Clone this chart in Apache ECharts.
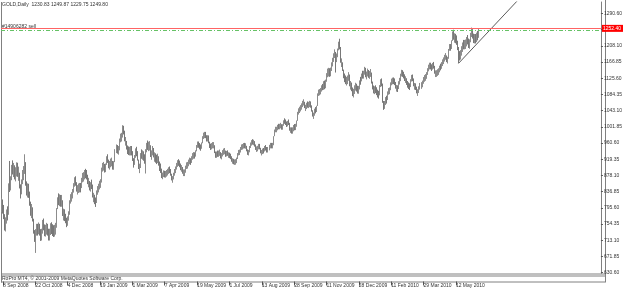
<!DOCTYPE html>
<html>
<head>
<meta charset="utf-8">
<title>GOLD,Daily</title>
<script src="https://cdn.jsdelivr.net/npm/echarts@6/dist/echarts.min.js"></script>
<style>
html, body { margin: 0; padding: 0; background: #fff; }
#main { width: 625px; height: 291px; }
</style>
</head>
<body>
<div id="main"></div>
<script>
// daily closes (one value per bar)
var closeSepOct08 = [806, 792, 778, 745, 762, 785, 778, 858, 850, 866, 905, 892, 892, 880, 882, 905, 880, 885, 845, 830, 868, 880, 888, 912, 852, 838, 842, 836, 802, 785, 790, 768];
var closeOctDec08 = [730, 718, 735, 745, 735, 752, 728, 725, 730, 765, 742, 735, 740, 745, 735, 720, 735, 748, 740, 738, 735, 740, 745, 795, 820, 815, 815, 812, 815, 775, 782, 772];
var closeDecJan09 = [765, 752, 772, 778, 815, 822, 825, 838, 855, 868, 860, 838, 845, 846, 848, 846, 872, 873, 876, 884, 882, 878, 858, 862, 842, 856, 855, 822, 822, 812, 808, 840];
var closeJanFeb09 = [840, 852, 855, 860, 898, 900, 903, 890, 905, 927, 915, 900, 908, 912, 913, 895, 912, 945, 947, 942, 942, 972, 975, 976, 995, 992, 965, 965, 945, 942, 940, 940];
var closeMarApr09 = [942, 940, 915, 905, 930, 940, 938, 918, 895, 897, 935, 930, 930, 925, 915, 940, 958, 952, 952, 955, 925, 935, 947, 925, 925, 920, 918, 925, 905, 898, 895, 872];
var closeAprMay09 = [882, 883, 880, 882, 885, 888, 893, 892, 880, 868, 868, 885, 887, 898, 905, 912, 910, 905, 895, 897, 885, 885, 885, 903, 903, 905, 915, 915, 912, 925, 928, 930];
var closeMayJun09 = [928, 940, 955, 958, 955, 950, 948, 960, 978, 980, 982, 980, 965, 980, 960, 952, 950, 955, 955, 955, 935, 927, 935, 932, 935, 937, 922, 932, 937, 940, 940, 927];
var closeJulAug09 = [940, 930, 930, 928, 925, 915, 915, 912, 912, 913, 920, 935, 937, 937, 950, 950, 952, 955, 953, 953, 940, 935, 937, 953, 957, 965, 962, 962, 955, 945, 945, 948];
var closeAugSep09 = [955, 948, 935, 937, 942, 940, 952, 945, 942, 945, 953, 955, 953, 955, 978, 995, 995, 995, 1005, 1000, 1005, 1005, 998, 1005, 1018, 1015, 1012, 1005, 1015, 1012, 992, 995];
var closeSepNov09 = [990, 995, 1002, 1000, 1003, 1017, 1040, 1042, 1048, 1050, 1057, 1063, 1065, 1050, 1050, 1060, 1057, 1058, 1062, 1055, 1042, 1030, 1030, 1048, 1040, 1055, 1087, 1090, 1090, 1095, 1104, 1102];
var closeNovDec09 = [1112, 1105, 1117, 1138, 1140, 1142, 1138, 1145, 1165, 1168, 1188, 1188, 1175, 1180, 1200, 1215, 1205, 1165, 1165, 1145, 1128, 1125, 1118, 1118, 1125, 1135, 1105, 1110, 1097, 1085, 1090, 1103];
var closeDecFeb10 = [1105, 1098, 1095, 1097, 1120, 1118, 1137, 1132, 1137, 1152, 1128, 1137, 1143, 1130, 1138, 1140, 1112, 1102, 1092, 1098, 1097, 1088, 1085, 1082, 1108, 1118, 1112, 1063, 1052, 1063, 1072, 1070];
var closeFebMar10 = [1092, 1092, 1095, 1115, 1117, 1120, 1118, 1115, 1100, 1100, 1098, 1118, 1118, 1137, 1140, 1135, 1132, 1122, 1122, 1112, 1108, 1105, 1103, 1123, 1128, 1125, 1105, 1105, 1103, 1088, 1090, 1103];
var closeMarMay10 = [1107, 1107, 1115, 1125, 1125, 1130, 1135, 1150, 1153, 1160, 1153, 1152, 1160, 1157, 1137, 1137, 1138, 1142, 1143, 1155, 1153, 1163, 1167, 1173, 1180, 1182, 1168, 1175, 1200, 1208, 1200, 1222];
var closeMayJun10 = [1243, 1228, 1228, 1225, 1220, 1198, 1188, 1177, 1193, 1197, 1212, 1210, 1212, 1212, 1225, 1222, 1207, 1218, 1240, 1245, 1232, 1222, 1230, 1222, 1237, 1230.83, 1249.80];

// typical high-low range of a bar in each of the blocks above (band thickness on the chart)
var blockRanges = [36, 30, 24, 22, 24, 17, 16, 14, 14, 16, 22, 20, 17, 17, 24];

// bars with long shadows: [bar, low, high]
var spikes = [[3, 738, 762], [8, 850, 915], [23, 885, 932], [34, 681, 740], [120, 975, 1006],
  [143, 883, 945], [332, 1140, 1192], [336, 1200, 1226], [380, 1045, 1065], [449, 1225, 1249],
  [454, 1164, 1190], [474, 1229.75, 1249.87]];

var tickBars = [0, 32, 64, 96, 128, 160, 192, 224, 256, 288, 320, 352, 384, 416, 448];
var tickLabels = ['8 Sep 2008', '22 Oct 2008', '4 Dec 2008', '19 Jan 2009', '1 Mar 2009', '7 Apr 2009',
  '19 May 2009', '1 Jul 2009', '13 Aug 2009', '28 Sep 2009', '11 Nov 2009', '28 Dec 2009',
  '11 Feb 2010', '29 Mar 2010', '12 May 2010'];
var priceTicks = [630.60, 671.85, 713.10, 754.35, 795.60, 836.85, 878.10, 919.35, 960.60,
  1001.85, 1043.10, 1084.35, 1125.60, 1166.85, 1208.10, 1249.35, 1290.60];

var askPrice = 1252.40;
var orderPrice = 1247.20;
var trendPoints = [[454, 1163.2], [520, 1343.1]];

var blocks = [closeSepOct08, closeOctDec08, closeDecJan09, closeJanFeb09, closeMarApr09,
  closeAprMay09, closeMayJun09, closeJulAug09, closeAugSep09, closeSepNov09, closeNovDec09,
  closeDecFeb10, closeFebMar10, closeMarMay10, closeMayJun10];

var closes = [], ranges = [];
blocks.forEach(function (b, k) {
  b.forEach(function (v) { closes.push(v); ranges.push(blockRanges[k]); });
});

var slots = 596; // visible bars incl. empty right shift
var cats = [];
for (var i = 0; i < slots; i++) cats.push(String(i));

var labelMap = {};
tickBars.forEach(function (b, k) { labelMap[b] = tickLabels[k]; });

var spikeMap = {};
spikes.forEach(function (s) { spikeMap[s[0]] = s; });

var candles = closes.map(function (c, i) {
  var o = i > 0 ? closes[i - 1] : 800;
  var lo = Math.min(o, c), hi = Math.max(o, c);
  var pad = (ranges[i] - (hi - lo)) / 2;
  if (pad > 0) { lo -= pad; hi += pad; }
  if (spikeMap[i]) { lo = Math.min(lo, spikeMap[i][1]); hi = Math.max(hi, spikeMap[i][2]); }
  return [o, c, lo, hi];
});

var FONT = 'Liberation Sans';
var chart = echarts.init(document.getElementById('main'), null, { renderer: 'canvas' });

var option = {
  animation: false,
  backgroundColor: '#ffffff',
  grid: [
    { left: 1, top: 2, width: 604, height: 271.5 },
    { left: 1, top: 276, width: 604, height: 5.5 }
  ],
  xAxis: [
    { type: 'category', gridIndex: 0, data: cats, boundaryGap: true,
      axisLine: { show: false }, axisTick: { show: false }, axisLabel: { show: false }, splitLine: { show: false } },
    { type: 'category', gridIndex: 1, data: cats, boundaryGap: true,
      axisLine: { show: false },
      axisTick: { show: true, alignWithLabel: true, length: 4,
        interval: function (idx) { return labelMap[idx] !== undefined; },
        lineStyle: { color: '#555', width: 1 } },
      axisLabel: { show: true, align: 'left', margin: 2, fontSize: 5, color: '#333', fontFamily: FONT,
        interval: function (idx) { return labelMap[idx] !== undefined; },
        formatter: function (v, idx) { return labelMap[idx] || ''; } },
      splitLine: { show: false } }
  ],
  yAxis: [
    { type: 'value', gridIndex: 0, position: 'right', min: 628.6, max: 1319.5, scale: true,
      axisLine: { show: true, lineStyle: { color: '#808080', width: 1 } },
      axisTick: { show: true, length: 2, customValues: priceTicks, lineStyle: { color: '#555' } },
      axisLabel: { show: true, margin: 3, fontSize: 5, color: '#333', fontFamily: FONT,
        customValues: priceTicks, formatter: function (v) { return v.toFixed(2); } },
      splitLine: { show: false } },
    { type: 'value', gridIndex: 1, show: false, min: 0, max: 1 }
  ],
  series: [
    {
      type: 'candlestick', xAxisIndex: 0, yAxisIndex: 0, data: candles,
      barWidth: 1, barMaxWidth: 1,
      itemStyle: { color: '#a0a0a0', color0: '#7c7c7c', borderColor: '#8c8c8c', borderColor0: '#787878', borderWidth: 1 },
      markLine: {
        silent: true, symbol: ['none', 'none'], animation: false,
        data: [
          { yAxis: orderPrice,
            lineStyle: { color: '#66c266', width: 1, type: [4, 2, 1, 2] },
            label: { show: true, position: 'insideStartTop', distance: 1, formatter: '#14906282 sell',
              fontSize: 5, color: '#333', fontFamily: FONT } },
          { yAxis: askPrice,
            lineStyle: { color: '#ff6464', width: 1, type: 'solid' },
            label: { show: true, position: 'end', distance: 1, formatter: askPrice.toFixed(2),
              fontSize: 5, color: '#ffffff', backgroundColor: '#ff0000', padding: [1, 2, 1, 1], fontFamily: FONT } }
        ]
      }
    },
    {
      type: 'line', xAxisIndex: 0, yAxisIndex: 0, data: trendPoints, symbol: 'none', silent: true,
      lineStyle: { color: '#5a5a5a', width: 1 }, clip: true
    }
  ],
  graphic: [
    { type: 'text', left: 2, top: 2, style: { text: 'GOLD,Daily  1230.83 1249.87 1229.75 1249.80', fontSize: 5, fill: '#333', fontFamily: FONT } },
    { type: 'text', left: 2, top: 276, style: { text: 'RoPro MT4, \u00a9 2001-2009 MetaQuotes Software Corp.', fontSize: 5, fill: '#333', fontFamily: FONT } },
    { type: 'line', shape: { x1: 1.5, y1: 2, x2: 1.5, y2: 282.5 }, style: { stroke: '#808080', lineWidth: 1 } },
    { type: 'line', shape: { x1: 1, y1: 274, x2: 605, y2: 274 }, style: { stroke: '#808080', lineWidth: 1 } },
    { type: 'line', shape: { x1: 1, y1: 276, x2: 605, y2: 276 }, style: { stroke: '#808080', lineWidth: 1 } },
    { type: 'line', shape: { x1: 1, y1: 282, x2: 605, y2: 282 }, style: { stroke: '#808080', lineWidth: 1 } },
    { type: 'line', shape: { x1: 605.5, y1: 0, x2: 605.5, y2: 282.5 }, style: { stroke: '#808080', lineWidth: 1 } }
  ]
};

chart.setOption(option);
</script>
</body>
</html>
